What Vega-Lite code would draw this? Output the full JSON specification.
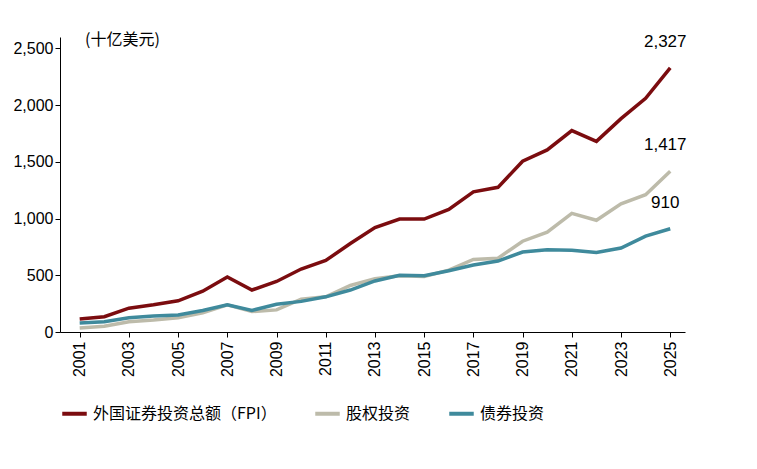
{
"$schema":"https://vega.github.io/schema/vega-lite/v6.json",
"width":625,"height":295,
"padding":{"left":12,"top":32,"right":45,"bottom":5},
"config":{"font":"Liberation Sans","view":{"stroke":null}},
"data":{"values":[
{"y":2001,"a":115,"b":35,"c":80},{"y":2002,"a":135,"b":50,"c":90},{"y":2003,"a":210,"b":90,"c":125},{"y":2004,"a":240,"b":105,"c":140},{"y":2005,"a":275,"b":125,"c":150},{"y":2006,"a":360,"b":170,"c":190},{"y":2007,"a":485,"b":240,"c":240},{"y":2008,"a":370,"b":180,"c":190},{"y":2009,"a":445,"b":195,"c":245},{"y":2010,"a":555,"b":290,"c":270},{"y":2011,"a":630,"b":310,"c":310},{"y":2012,"a":780,"b":410,"c":370},{"y":2013,"a":920,"b":470,"c":450},{"y":2014,"a":995,"b":495,"c":500},{"y":2015,"a":995,"b":490,"c":495},{"y":2016,"a":1080,"b":545,"c":540},{"y":2017,"a":1235,"b":640,"c":590},{"y":2018,"a":1275,"b":650,"c":625},{"y":2019,"a":1505,"b":800,"c":705},{"y":2020,"a":1605,"b":880,"c":725},{"y":2021,"a":1775,"b":1045,"c":720},{"y":2022,"a":1680,"b":985,"c":700},{"y":2023,"a":1880,"b":1130,"c":740},{"y":2024,"a":2060,"b":1210,"c":845},{"y":2025,"a":2327,"b":1417,"c":910}]},
"transform":[{"fold":["a","b","c"],"as":["k","v"]},
{"calculate":"{'a':'外国证券投资总额（FPI）','b':'股权投资','c':'债券投资'}[datum.k]","as":"s"}],
"layer":[
{"mark":{"type":"line","strokeWidth":3.5},
"encoding":{
"x":{"field":"y","type":"quantitative","scale":{"domain":[2000.2,2025.6],"nice":false},
"axis":{"title":null,"values":[2001,2003,2005,2007,2009,2011,2013,2015,2017,2019,2021,2023,2025],"format":"d","labelAngle":-90,"labelFontSize":16,"labelColor":"#000","domainColor":"#000","tickColor":"#000","grid":false,"labelPadding":4}},
"y":{"field":"v","type":"quantitative","scale":{"domain":[0,2500]},
"axis":{"title":null,"values":[0,500,1000,1500,2000,2500],"format":",.0f","labelFontSize":16,"labelColor":"#000","domainColor":"#000","tickColor":"#000","grid":false}},
"color":{"field":"s","type":"nominal","sort":["外国证券投资总额（FPI）","股权投资","债券投资"],
"scale":{"domain":["外国证券投资总额（FPI）","股权投资","债券投资"],"range":["#7B0C0F","#BDBBAA","#3F8A9C"]},
"legend":{"title":null,"orient":"bottom","direction":"horizontal","labelFontSize":16,"labelLimit":400,"labelColor":"#000","symbolType":"stroke","symbolStrokeWidth":4,"symbolSize":600,"columnPadding":30,"offset":22,"labelFont":"Noto Sans CJK SC"}}}},
{"transform":[{"filter":"datum.y==2025"}],
"mark":{"type":"text","fontSize":17,"dy":-26,"dx":-5},
"encoding":{"x":{"field":"y","type":"quantitative"},"y":{"field":"v","type":"quantitative"},"text":{"field":"v","type":"quantitative","format":",.0f"}}},
{"data":{"values":[{"t":"(十亿美元)"}]},"transform":[],
"mark":{"type":"text","font":"Noto Sans CJK SC","fontSize":16,"align":"left","x":25,"y":3},
"encoding":{"text":{"field":"t"}}}
]}
